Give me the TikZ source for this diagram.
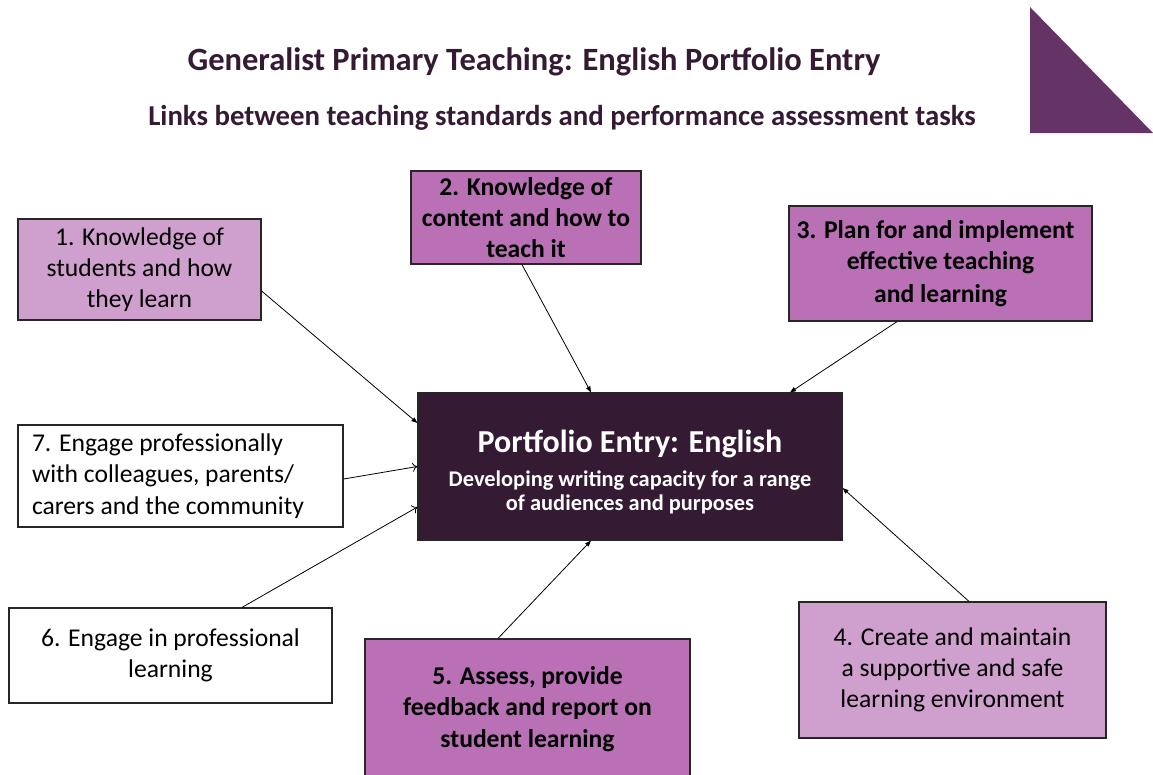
\documentclass[tikz,border=0pt]{standalone}
\usepackage{fontspec}
\setmainfont{Carlito}
\usetikzlibrary{arrows.meta}

\definecolor{plumdark}{HTML}{341A33}
\definecolor{plummid}{HTML}{B970B5}
\definecolor{plumlight}{HTML}{CF9FCE}
\definecolor{plumcorner}{HTML}{663366}

\tikzset{
  stdbox/.style={draw=black!85, line width=1.2pt, inner sep=0pt, align=center,
    font=\fontsize{25.6}{31.2}\selectfont},
  boldbox/.style={stdbox, fill=plummid, font=\fontsize{25.6}{31.2}\selectfont\bfseries},
  lightbox/.style={stdbox, fill=plumlight},
  plainbox/.style={stdbox, fill=white},
  feed/.style={line width=0.8pt, -{Triangle[length=6pt,width=4.5pt]}},
  openfeed/.style={line width=0.8pt, -{To[length=5pt,width=9pt]}}
}

\begin{document}
\begin{tikzpicture}[x=1pt, y=-1pt]
  \useasboundingbox (0,0) rectangle (1153,774);
  \clip (0,0) rectangle (1153,774);

  % Heading and corner mark
  \node[text=plumdark, font=\fontsize{32.5}{38}\selectfont\bfseries] (head1) at (534,62)
    {Generalist Primary Teaching: English Portfolio Entry};
  \node[text=plumdark, font=\fontsize{28.8}{34}\selectfont\bfseries] (head2) at (562,118)
    {Links between teaching standards and performance assessment tasks};
  \fill[plumcorner] (1030,7) -- (1030,133) -- (1153,133) -- cycle;

  % Centre box
  \node[draw=black!85, line width=1.2pt, fill=plumdark, text=white, align=center,
        minimum width=424pt, minimum height=147pt, inner sep=0pt,
        font=\fontsize{22.4}{24}\selectfont\bfseries] (entry) at (630,466.5)
    {{\fontsize{32}{38}\selectfont\rule{0pt}{34pt}Portfolio Entry: English}\\[10pt]
     Developing writing capacity for a range\\
     of audiences and purposes};

  % Standards 1-7
  \node[lightbox, minimum width=243pt, minimum height=101pt] (std1) at (139.5,269.5)
    {1. Knowledge of\\ students and how\\ they learn};
  \node[boldbox, minimum width=230pt, minimum height=93pt] (std2) at (526,217.5)
    {2. Knowledge of\\ content and how to\\ teach it};
  \node[boldbox, minimum width=303pt, minimum height=115pt] (std3) at (940.5,263.5)
    {\hspace*{-10pt}3. Plan for and implement\\ effective teaching\\[2pt] and learning};
  \node[lightbox, minimum width=307pt, minimum height=136pt] (std4) at (952.5,670)
    {4. Create and maintain\\ a supportive and safe\\ learning environment};
  \node[boldbox, minimum width=325pt, minimum height=140pt] (std5) at (527.5,709)
    {5. Assess, provide\\ feedback and report on\\ student learning};
  \node[plainbox, minimum width=323pt, minimum height=95pt] (std6) at (170.5,655.5)
    {6. Engage in professional\\ learning};
  \node[plainbox, minimum width=325pt, minimum height=102pt, text width=297pt,
        align=flush left, inner xsep=14pt] (std7) at (180.5,476)
    {7. Engage professionally\\ with colleagues, parents/\\ carers and the community};

  % Links into the centre
  \draw[feed] ([yshift=-21.5pt]std1.east) -- ([yshift=43.5pt]entry.west);
  \draw[feed] ([xshift=-4pt]std2.south) -- ([xshift=-39pt]entry.north);
  \draw[feed] ([xshift=-43.5pt]std3.south) -- ([xshift=160pt]entry.north);
  \draw[feed] ([xshift=16.5pt]std4.north) -- ([yshift=-21.5pt]entry.east);
  \draw[feed] ([xshift=-29.5pt]std5.north) -- ([xshift=-39pt]entry.south);
  \draw[openfeed] ([xshift=71.5pt]std6.north) -- ([yshift=-40.5pt]entry.west);
  \draw[openfeed] ([yshift=-3pt]std7.east) -- (entry.west);
\end{tikzpicture}
\end{document}
